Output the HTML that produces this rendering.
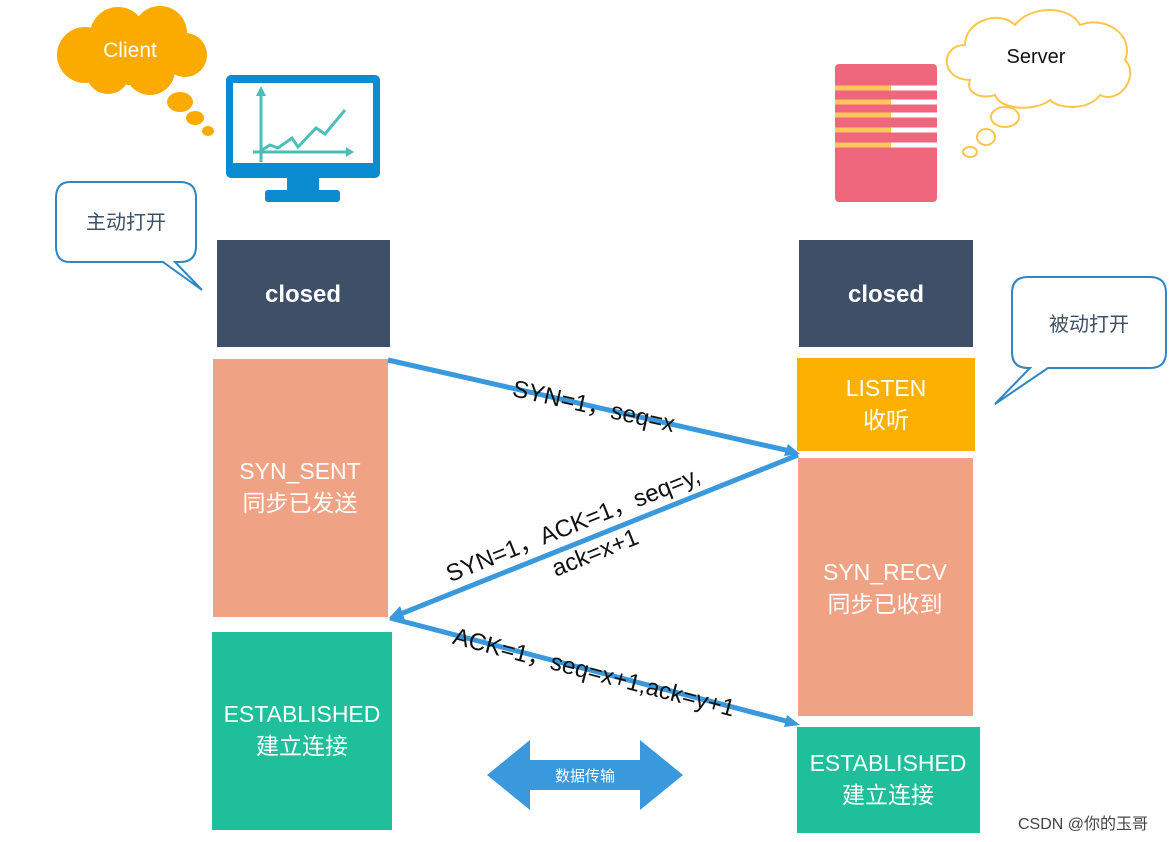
<!DOCTYPE html>
<html><head><meta charset="utf-8"><style>
body{margin:0;background:#fff;}
svg{display:block;font-family:"Liberation Sans","Noto Sans CJK SC",sans-serif;}
</style></head><body>
<svg width="1174" height="842" viewBox="0 0 1174 842">
<!-- Client cloud -->
<g fill="#fbab00">
<circle cx="85" cy="55" r="28"/><circle cx="118" cy="35" r="28"/><circle cx="160" cy="33" r="27"/><circle cx="185" cy="55" r="22"/>
<circle cx="150" cy="70" r="25"/><circle cx="108" cy="72" r="22"/><circle cx="130" cy="55" r="30"/>
<ellipse cx="180" cy="102" rx="13" ry="10"/><ellipse cx="195" cy="118" rx="9" ry="7"/><ellipse cx="208" cy="131" rx="6" ry="5"/>
</g>
<text x="130" y="57" font-size="21" fill="#fff" text-anchor="middle">Client</text>
<!-- Monitor -->
<rect x="226" y="75" width="154" height="103" rx="5" fill="#0b8bd0"/>
<rect x="233" y="83" width="140" height="80" fill="#fff"/>
<rect x="287" y="178" width="32" height="14" fill="#0b8bd0"/>
<rect x="265" y="190" width="75" height="12" rx="3" fill="#0b8bd0"/>
<g stroke="#49bfb8" stroke-width="3" fill="none">
<line x1="261" y1="92" x2="261" y2="162"/><line x1="253" y1="152" x2="350" y2="152"/>
<polyline points="262,150 270,145 278,148 292,138 298,147 316,128 325,134 345,110"/>
</g>
<polygon points="256,96 261,86 266,96" fill="#49bfb8"/><polygon points="346,147 354,152 346,157" fill="#49bfb8"/>
<!-- Speech bubble left -->
<path d="M70,182 H180 Q196,182 196,198 V246 Q196,262 180,262 H175 L202,290 L163,262 H70 Q56,262 56,246 V198 Q56,182 70,182 Z" fill="#fff" stroke="#2f86c2" stroke-width="2"/>
<text x="126" y="229" font-size="20" fill="#3c5066" text-anchor="middle">主动打开</text>
<!-- Server icon -->
<rect x="835" y="64" width="102" height="138" rx="4" fill="#ef677c"/>
<g stroke-width="5">
<line x1="835" y1="88" x2="891" y2="88" stroke="#fdc75c"/><line x1="891" y1="88" x2="937" y2="88" stroke="#fff"/>
<line x1="835" y1="102" x2="891" y2="102" stroke="#fdc75c"/><line x1="891" y1="102" x2="937" y2="102" stroke="#fff"/>
<line x1="835" y1="115" x2="891" y2="115" stroke="#fdc75c"/><line x1="891" y1="115" x2="937" y2="115" stroke="#fff"/>
<line x1="835" y1="130" x2="891" y2="130" stroke="#fdc75c"/><line x1="891" y1="130" x2="937" y2="130" stroke="#fff"/>
<line x1="835" y1="145" x2="891" y2="145" stroke="#fdc75c"/><line x1="891" y1="145" x2="937" y2="145" stroke="#fff"/>
</g>
<!-- Server cloud outline -->
<path d="M970,80 C940,80 940,45 965,45 C965,20 1000,10 1015,25 C1030,5 1070,5 1080,25 C1105,15 1135,35 1125,60 C1140,75 1120,105 1100,95 C1090,110 1060,110 1050,100 C1035,112 1000,110 995,95 C980,100 965,92 970,80 Z" fill="#fff" stroke="#fcc64e" stroke-width="2"/>
<ellipse cx="1005" cy="117" rx="14" ry="10" fill="#fff" stroke="#fcc64e" stroke-width="2"/>
<ellipse cx="986" cy="137" rx="9" ry="8" fill="#fff" stroke="#fcc64e" stroke-width="2"/>
<ellipse cx="970" cy="152" rx="7" ry="5" fill="#fff" stroke="#fcc64e" stroke-width="2"/>
<text x="1036" y="63" font-size="20" fill="#111" text-anchor="middle">Server</text>
<!-- Right bubble -->
<path d="M1028,277 H1150 Q1166,277 1166,293 V352 Q1166,368 1150,368 H1048 L995,404 L1030,368 H1028 Q1012,368 1012,352 V293 Q1012,277 1028,277 Z" fill="#fff" stroke="#2f86c2" stroke-width="2"/>
<text x="1089" y="331" font-size="20" fill="#3c5066" text-anchor="middle">被动打开</text>
<!-- Boxes -->
<rect x="217" y="240" width="173" height="107" fill="#3d5068"/>
<text x="303" y="302" font-size="24" font-weight="bold" fill="#fff" text-anchor="middle">closed</text>
<rect x="213" y="359" width="175" height="258" fill="#f0a285"/>
<text x="300" y="479" font-size="23" fill="#fff" text-anchor="middle">SYN_SENT</text>
<text x="300" y="511" font-size="23" fill="#fff" text-anchor="middle">同步已发送</text>
<rect x="212" y="632" width="180" height="198" fill="#1fbf9b"/>
<text x="302" y="722" font-size="23" fill="#fff" text-anchor="middle">ESTABLISHED</text>
<text x="302" y="754" font-size="23" fill="#fff" text-anchor="middle">建立连接</text>
<rect x="799" y="240" width="174" height="107" fill="#3d5068"/>
<text x="886" y="302" font-size="24" font-weight="bold" fill="#fff" text-anchor="middle">closed</text>
<rect x="797" y="358" width="178" height="93" fill="#fdb000"/>
<text x="886" y="396" font-size="23" fill="#fff" text-anchor="middle">LISTEN</text>
<text x="886" y="428" font-size="23" fill="#fff" text-anchor="middle">收听</text>
<rect x="798" y="458" width="175" height="258" fill="#f0a285"/>
<text x="885" y="580" font-size="23" fill="#fff" text-anchor="middle">SYN_RECV</text>
<text x="885" y="612" font-size="23" fill="#fff" text-anchor="middle">同步已收到</text>
<rect x="797" y="727" width="183" height="106" fill="#1fbf9b"/>
<text x="888" y="771" font-size="23" fill="#fff" text-anchor="middle">ESTABLISHED</text>
<text x="888" y="803" font-size="23" fill="#fff" text-anchor="middle">建立连接</text>
<!-- Arrows -->
<g stroke="#3a98dc" stroke-width="5" fill="none">
<line x1="388" y1="360" x2="790" y2="451"/>
<line x1="798" y1="455" x2="398" y2="615"/>
<line x1="390" y1="618" x2="790" y2="722"/>
</g>
<polygon points="800,454 784,456 788,444" fill="#3a98dc"/>
<polygon points="389,618 400,606 405,620" fill="#3a98dc"/>
<polygon points="800,725 784,727 787,715" fill="#3a98dc"/>
<g font-size="24" fill="#111">
<text x="592" y="414" text-anchor="middle" transform="rotate(12.7 592 414)">SYN=1，seq=x</text>
<text x="576" y="532" text-anchor="middle" transform="rotate(-21.8 576 532)">SYN=1，ACK=1，seq=y,</text>
<text x="598" y="560" text-anchor="middle" transform="rotate(-21.8 598 560)">ack=x+1</text>
<text x="592" y="680" text-anchor="middle" transform="rotate(14.6 592 680)">ACK=1，seq=x+1,ack=y+1</text>
</g>
<!-- Double arrow -->
<polygon points="487,775 530,740 530,760 640,760 640,740 683,775 640,810 640,790 530,790 530,810" fill="#3a98dc"/>
<text x="585" y="781" font-size="15" fill="#fff" text-anchor="middle">数据传输</text>
<text x="1083" y="829" font-size="16" fill="#444" text-anchor="middle">CSDN @你的玉哥</text>
</svg>
</body></html>
